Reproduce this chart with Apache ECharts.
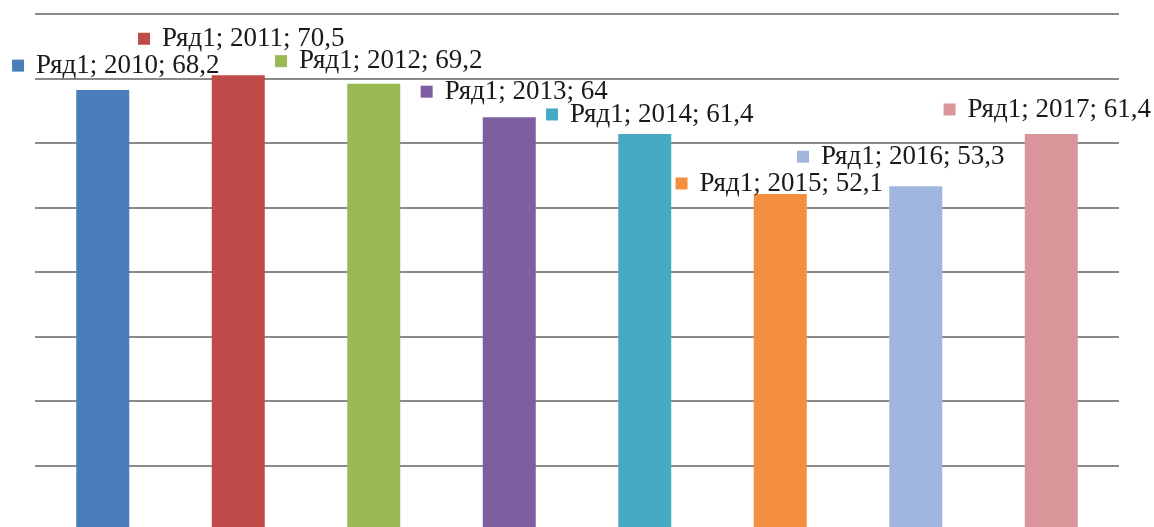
<!DOCTYPE html>
<html>
<head>
<meta charset="utf-8">
<script src="https://cdn.jsdelivr.net/npm/echarts@6/dist/echarts.min.js"></script>
<style>html,body{margin:0;padding:0;background:#fff;}#c{width:1154px;height:527px;}</style>
</head>
<body>
<div id="c"></div>
<script>
const seriesName = 'Ряд1';
const years = ['2010', '2011', '2012', '2013', '2014', '2015', '2016', '2017'];
const values = [68.2, 70.5, 69.2, 64, 61.4, 52.1, 53.3, 61.4];
const barColors = ['#4A7EBB', '#BE4B48', '#98B954', '#7D5FA0', '#46AAC5', '#F38F3F', '#A0B6DF', '#D9969A'];
const yTicks = [0, 10, 20, 30, 40, 50, 60, 70, 80];
// label nudges (layout only, Excel-like label placement)
const labelNudge = [[13, -11], [3, -23], [5, -9], [5, -12], [5, -6], [-1, 3], [-15, -16], [-4, -11]];

const fmt = v => String(v).replace('.', ',');

const chart = echarts.init(document.getElementById('c'), null, {renderer: 'canvas'});
chart.setOption({
  animation: false,
  backgroundColor: '#ffffff',
  grid: {left: 35, right: 35, top: 14, height: 516, outerBoundsMode: 'none', containLabel: false},
  xAxis: {
    type: 'category',
    data: years,
    axisLine: {show: false},
    axisTick: {show: false},
    axisLabel: {show: false},
    splitLine: {show: false}
  },
  yAxis: {
    type: 'value',
    min: yTicks[0],
    max: yTicks[yTicks.length - 1],
    interval: yTicks[1] - yTicks[0],
    axisLine: {show: false},
    axisTick: {show: false},
    axisLabel: {show: false},
    splitLine: {show: true, lineStyle: {color: '#8a8a8a', width: 2}}
  },
  series: [{
    type: 'bar',
    name: seriesName,
    barWidth: 53,
    data: values.map((v, i) => ({
      value: v,
      itemStyle: {color: barColors[i]},
      label: {
        show: true,
        position: 'top',
        distance: 0,
        offset: labelNudge[i],
        formatter: '{sq|}{gap|}{t|' + seriesName + '; ' + years[i] + '; ' + fmt(v) + '}',
        rich: {
          sq: {width: 12, height: 12, backgroundColor: barColors[i]},
          gap: {width: 12},
          t: {fontFamily: 'Liberation Serif', fontSize: 27, color: '#1a1a1a', lineHeight: 27}
        }
      }
    }))
  }]
});
</script>
</body>
</html>
